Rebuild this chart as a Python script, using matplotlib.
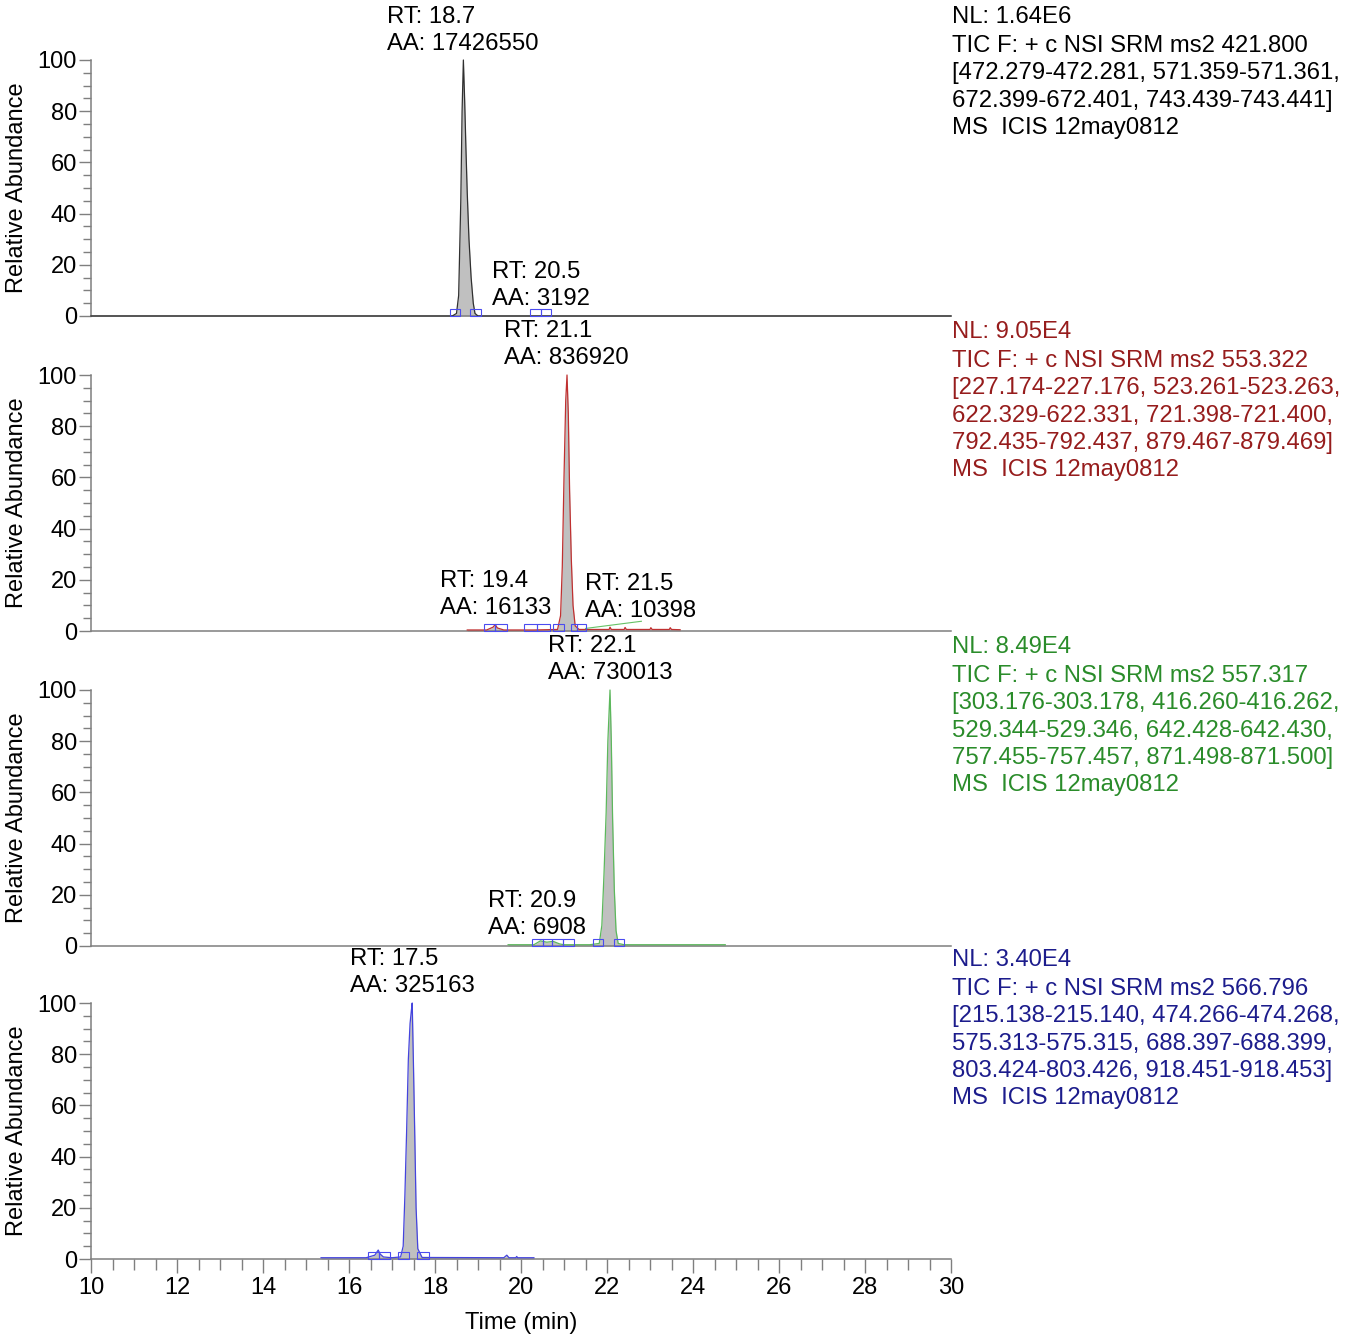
import matplotlib
matplotlib.use("Agg")
import matplotlib.pyplot as plt
from matplotlib.patches import Rectangle
from matplotlib.ticker import MultipleLocator

plt.rcParams['font.family'] = ['Liberation Sans', 'DejaVu Sans']

# retention time (min) and relative abundance for each SRM trace
time_1 = [10.0, 18.40, 18.50, 18.55, 18.60, 18.63, 18.66, 18.69, 18.72, 18.75, 18.79, 18.84, 18.89, 18.93, 19.00, 30.0]
abund_1 = [0, 0, 1, 8, 45, 80, 100, 84, 65, 48, 30, 15, 5, 1, 0, 0]

time_2 = [18.75, 19.20, 19.35, 19.40, 19.45, 19.60, 20.30, 20.85, 20.92, 20.96, 21.00, 21.04, 21.07,
          21.10, 21.13, 21.17, 21.21, 21.26, 21.35, 22.05, 22.07, 22.10, 22.40, 22.42, 22.45,
          23.00, 23.02, 23.05, 23.45, 23.47, 23.50, 23.70]
abund_2 = [0.4, 0.4, 1.5, 2.5, 1.2, 0.4, 0.4, 0.6, 6, 25, 60, 90, 100,
           85, 55, 28, 10, 2, 0.6, 0.6, 1.5, 0.6, 0.6, 1.4, 0.6,
           0.6, 1.3, 0.6, 0.6, 1.3, 0.6, 0.5]
# faint trace of the neighbouring channel
time_2b = [21.50, 22.80]
abund_2b = [1.0, 3.8]

time_3 = [19.70, 20.30, 20.45, 20.60, 20.75, 20.90, 21.00, 21.60, 21.82, 21.88, 21.93, 21.98, 22.02,
          22.07, 22.10, 22.13, 22.17, 22.21, 22.26, 22.40, 24.75]
abund_3 = [0.5, 0.5, 2.0, 1.5, 1.8, 0.8, 0.5, 0.5, 1, 8, 28, 52, 80,
           100, 80, 50, 22, 6, 1, 0.5, 0.5]

time_4 = [15.35, 16.40, 16.60, 16.68, 16.72, 16.80, 17.00, 17.20, 17.26, 17.30, 17.34, 17.38, 17.42,
          17.45, 17.47, 17.50, 17.53, 17.56, 17.60, 17.70, 19.60, 19.67, 19.72, 19.88, 19.90, 19.92, 20.30]
abund_4 = [0.5, 0.5, 1.5, 3.5, 2.0, 0.8, 0.5, 0.8, 5, 25, 50, 78, 92,
           97, 100, 75, 48, 20, 4, 0.6, 0.5, 1.5, 0.5, 0.5, 1.0, 0.5, 0.5]

# integration boundaries (start, end) in min
bounds_1 = [(18.35, 18.58), (18.81, 19.07), (20.21, 20.47), (20.47, 20.70)]
bounds_2 = [(19.14, 19.40), (19.40, 19.67), (20.07, 20.37), (20.37, 20.67), (20.74, 21.00),
            (21.16, 21.30), (21.30, 21.51)]
bounds_3 = [(20.26, 20.51), (20.51, 20.72), (20.72, 20.98), (20.98, 21.23), (21.67, 21.91), (22.16, 22.40)]
bounds_4 = [(16.44, 16.70), (16.70, 16.95), (17.14, 17.40), (17.58, 17.86)]

# peak labels: (RT, area)
peaks_1 = [("18.7", "17426550"), ("20.5", "3192")]
peaks_2 = [("21.1", "836920"), ("19.4", "16133"), ("21.5", "10398")]
peaks_3 = [("22.1", "730013"), ("20.9", "6908")]
peaks_4 = [("17.5", "325163")]

# header text for each trace
header_1 = ["NL: 1.64E6", "TIC F: + c NSI SRM ms2 421.800",
            "[472.279-472.281, 571.359-571.361,", "672.399-672.401, 743.439-743.441]",
            "MS  ICIS 12may0812"]
header_2 = ["NL: 9.05E4", "TIC F: + c NSI SRM ms2 553.322",
            "[227.174-227.176, 523.261-523.263,", "622.329-622.331, 721.398-721.400,",
            "792.435-792.437, 879.467-879.469]", "MS  ICIS 12may0812"]
header_3 = ["NL: 8.49E4", "TIC F: + c NSI SRM ms2 557.317",
            "[303.176-303.178, 416.260-416.262,", "529.344-529.346, 642.428-642.430,",
            "757.455-757.457, 871.498-871.500]", "MS  ICIS 12may0812"]
header_4 = ["NL: 3.40E4", "TIC F: + c NSI SRM ms2 566.796",
            "[215.138-215.140, 474.266-474.268,", "575.313-575.315, 688.397-688.399,",
            "803.424-803.426, 918.451-918.453]", "MS  ICIS 12may0812"]

W, H, DPI = 1356, 1334, 100
FS = 17.2
SPINE = '#7f7f7f'
BOX = '#4b4bf0'

# label anchor (min, rel. abundance of the first line) for each peak label
label_pos = [
    [(16.88, 116.8), (19.33, 17.2)],
    [(19.60, 117.2), (18.12, 19.5), (21.49, 18.4)],
    [(20.63, 117.2), (19.23, 17.6)],
    [(16.02, 117.2)],
]

panels = [
    dict(t=time_1, y=abund_1, line='#303030', text='black', bounds=bounds_1, peaks=peaks_1, head=header_1, zero=316),
    dict(t=time_2, y=abund_2, line='#c03030', text='#961c1c', bounds=bounds_2, peaks=peaks_2, head=header_2, zero=631),
    dict(t=time_3, y=abund_3, line='#5cb85c', text='#2a8c2a', bounds=bounds_3, peaks=peaks_3, head=header_3, zero=946),
    dict(t=time_4, y=abund_4, line='#4444dd', text='#1c1c8c', bounds=bounds_4, peaks=peaks_4, head=header_4, zero=1259),
]

fig = plt.figure(figsize=(W / DPI, H / DPI), dpi=DPI)
left, right = 91 / W, 951 / W
px_step = 27.2  # line pitch of stacked labels, px


def stacked(ax, x, y, lines, color):
    for i, s in enumerate(lines):
        ax.annotate(s, (x, y), xytext=(0, -i * px_step * 72 / DPI), textcoords='offset points',
                    ha='left', va='center', fontsize=FS, color=color, annotation_clip=False)


for k, p in enumerate(panels):
    zero = p['zero']
    ax = fig.add_axes([left, 1 - zero / H, right - left, 256 / H])
    ax.set_xlim(10, 30)
    ax.set_ylim(0, 100)

    ax.fill_between(p['t'], p['y'], 0, color='#c0c0c0', lw=0, zorder=2)
    ax.plot(p['t'], p['y'], color=p['line'], lw=0.9, zorder=3, clip_on=False)
    if k == 1:
        ax.plot(time_2b, abund_2b, color='#66c266', lw=0.8, zorder=3)

    for a, b in p['bounds']:
        ax.add_patch(Rectangle((a, 0), b - a, 2.6, fill=False, ec=BOX, lw=0.8, zorder=4, clip_on=False))

    for (rt, aa), (lx, ly) in zip(p['peaks'], label_pos[k]):
        stacked(ax, lx, ly, [f"RT: {rt}", f"AA: {aa}"], 'black')

    for i, s in enumerate(p['head']):
        off = 299 if i == 0 else 270 - (i - 1) * 27.3
        fig.text(952 / W, 1 - (zero - off) / H, s, ha='left', va='center', fontsize=FS, color=p['text'])

    for side in ('top', 'right'):
        ax.spines[side].set_visible(False)
    for side in ('left', 'bottom'):
        ax.spines[side].set_color(SPINE)
        ax.spines[side].set_linewidth(1.1)

    ax.yaxis.set_major_locator(MultipleLocator(20))
    ax.yaxis.set_minor_locator(MultipleLocator(5))
    ax.tick_params(axis='y', which='major', length=9, width=1, color=SPINE, labelsize=17, pad=1)
    ax.tick_params(axis='y', which='minor', length=6, width=1, color=SPINE)
    ax.set_ylabel("Relative Abundance", fontsize=17, labelpad=7)

    if k == len(panels) - 1:
        ax.xaxis.set_major_locator(MultipleLocator(2))
        ax.xaxis.set_minor_locator(MultipleLocator(0.5))
        ax.tick_params(axis='x', which='major', length=10, width=1, color=SPINE, labelsize=17, pad=3)
        ax.tick_params(axis='x', which='minor', length=8, width=1, color=SPINE)
        ax.set_xlabel("Time (min)", fontsize=17, labelpad=9)
    else:
        ax.set_xticks([])

fig.savefig("out.png", dpi=DPI)
